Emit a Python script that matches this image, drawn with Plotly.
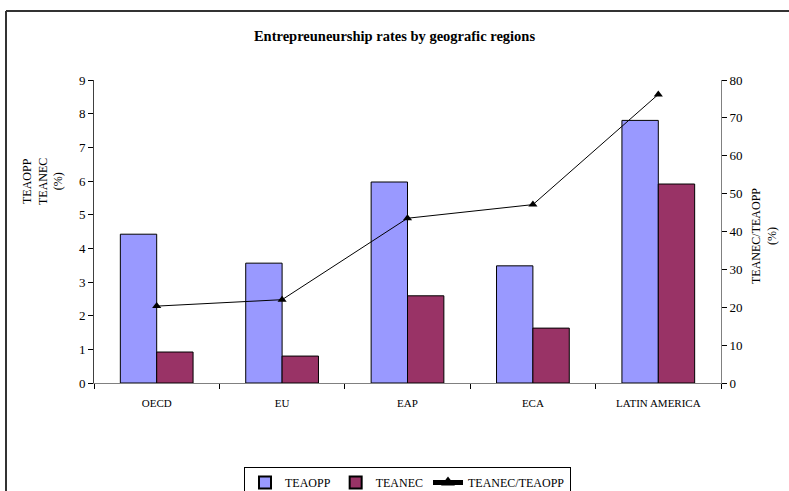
import plotly.graph_objects as go

# Regions and rates
regions = ["OECD", "EU", "EAP", "ECA", "LATIN AMERICA"]
teaopp = [4.42, 3.56, 5.97, 3.48, 7.80]
teanec = [0.92, 0.80, 2.59, 1.63, 5.91]
ratio = [20.3, 22.0, 43.5, 47.1, 76.2]

FONT = "Liberation Serif"
W, H = 789, 491
L, R, T, B = 94, 68, 80, 108
pw, ph = W - L - R, H - T - B

def px_x(x):
    return (x - L) / pw

def px_y(y):
    return (H - B - y) / ph

fig = go.Figure()
fig.add_trace(go.Bar(
    x=regions, y=teaopp, name="TEAOPP",
    marker=dict(color="#9999FF", line=dict(color="#000000", width=1)),
))
fig.add_trace(go.Bar(
    x=regions, y=teanec, name="TEANEC",
    marker=dict(color="#993366", line=dict(color="#000000", width=1)),
))
fig.add_trace(go.Scatter(
    x=regions, y=ratio, name="TEANEC/TEAOPP", yaxis="y2",
    mode="lines+markers",
    line=dict(color="#000000", width=1),
    marker=dict(symbol="triangle-up", size=8, color="#000000"),
))

fig.update_layout(
    width=W, height=H,
    margin=dict(l=L, r=R, t=T, b=B, autoexpand=False),
    paper_bgcolor="white", plot_bgcolor="white",
    font=dict(family=FONT, size=13, color="#000000"),
    barmode="group", bargap=0.42, bargroupgap=0,
    showlegend=True,
    legend=dict(
        orientation="h", x=0.5, xanchor="center",
        y=px_y(467), yanchor="top",
        bordercolor="#000000", borderwidth=1,
        font=dict(family=FONT, size=12),
        itemsizing="constant", tracegroupgap=0, itemwidth=30,
    ),
    title=dict(
        text="<b>Entrepreuneurship rates by geografic regions</b>",
        x=0.5, xanchor="center", xref="container",
        y=1 - 36 / H, yanchor="middle", yref="container",
        font=dict(family=FONT, size=14.5),
    ),
    xaxis=dict(
        showline=True, linecolor="#808080", linewidth=1,
        ticks="outside", tickson="boundaries", ticklen=5,
        tickcolor="#000000", showgrid=False, ticklabelstandoff=10,
        tickfont=dict(family=FONT, size=11),
    ),
    yaxis=dict(
        range=[0, 9], dtick=1, showline=True, linecolor="#404040",
        linewidth=1, ticks="outside", ticklen=5, tickcolor="#000000",
        showgrid=False, zeroline=False,
        tickfont=dict(family=FONT, size=13),
    ),
    yaxis2=dict(
        range=[0, 80], dtick=10, overlaying="y", side="right",
        showline=True, linecolor="#808080", linewidth=1,
        ticks="outside", ticklen=5, tickcolor="#000000",
        showgrid=False, zeroline=False,
        tickfont=dict(family=FONT, size=13),
    ),
)

# Axis titles
fig.add_annotation(
    text="TEAOPP<br>TEANEC<br>(%)", textangle=-90,
    xref="paper", yref="paper", x=px_x(42), y=px_y(182),
    xanchor="center", yanchor="middle",
    showarrow=False, font=dict(family=FONT, size=12),
    align="center",
)
fig.add_annotation(
    text="TEANEC/TEAOPP<br>(%)", textangle=-90,
    xref="paper", yref="paper", x=px_x(764), y=px_y(236),
    xanchor="center", yanchor="middle",
    showarrow=False, font=dict(family=FONT, size=12),
    align="center",
)

# Chart-area frame (top and left edges)
frame = dict(color="#333333", width=2)
fig.add_shape(type="line", xref="paper", yref="paper",
              x0=px_x(6), x1=px_x(792), y0=px_y(11), y1=px_y(11), line=frame)
fig.add_shape(type="line", xref="paper", yref="paper",
              x0=px_x(6), x1=px_x(6), y0=px_y(11), y1=px_y(495), line=frame)

fig.write_html("out.html")
